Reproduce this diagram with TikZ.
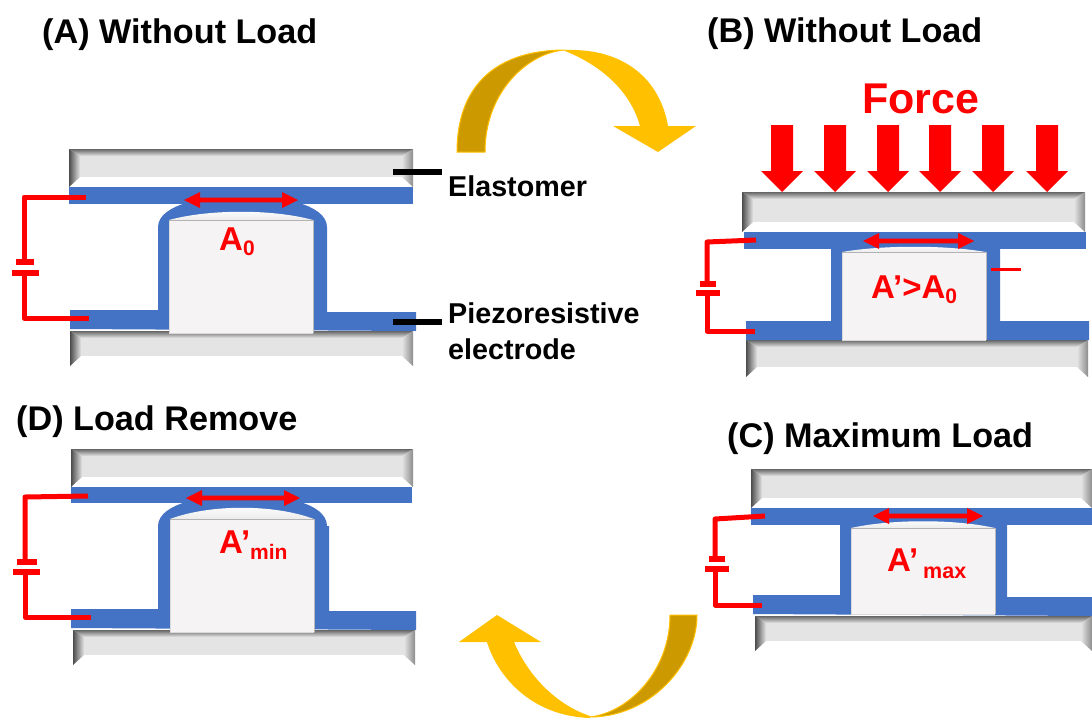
\documentclass[tikz,border=0pt]{standalone}
\usepackage{fontspec}
\setmainfont{Liberation Sans}
\definecolor{elec}{HTML}{4472C4}
\definecolor{gold}{HTML}{FFC000}
\definecolor{golddark}{HTML}{CC9A00}
\definecolor{plate}{HTML}{E4E4E4}
\definecolor{blockc}{HTML}{F5F3F4}
\newcommand{\fs}[1]{\fontsize{#1}{#1}\selectfont\bfseries}
\tikzset{
  electrode/.style={fill=elec,draw=none},
  wire/.style={draw=red,line width=5pt,line join=round},
  wireplate/.style={draw=red,line width=6pt},
  lab/.style={anchor=base west,inner sep=0pt,text=black},
  redlab/.style={anchor=base west,inner sep=0pt,text=red},
  redfill/.style={fill=red,draw=none},
  callout/.style={draw=black,line width=6pt},
  bigarrow/.style={fill=gold,draw=none},
  bigarrowback/.style={fill=golddark,draw=gold,line width=1pt}
}
% bevelled plate
\newcommand{\bevel}[4]{%
  \fill[plate] (#1,#2) rectangle (#3,#4);
  \shade[top color=black!60,middle color=plate!88!black,bottom color=plate,draw=none] (#1,#2) -- (#3,#2) -- (#3-11,#2+7) -- (#1+11,#2+7) -- cycle;
  \fill[white] (#1,#4) -- (#3,#4) -- (#3-11,#4-10) -- (#1+11,#4-10) -- cycle;
  \shade[left color=black!70,middle color=gray!70,right color=plate,draw=none] (#1,#2) -- (#1+11,#2+7) -- (#1+11,#4-10) -- (#1,#4) -- cycle;
  \shade[left color=plate,middle color=plate!85!black,right color=gray!90,draw=none] (#3,#2) -- (#3-11,#2+7) -- (#3-11,#4-10) -- (#3,#4) -- cycle;
}
% central block with its top cap
\newcommand{\block}[5]{%
  \fill[blockc] (#1,#2) rectangle (#3,#4);
  \draw[gray!55,line width=.8pt] (#3,#2) -- (#3,#4);
  \draw[gray!30,line width=.8pt] (#1,#2) -- (#1,#4) -- (#3,#4);
  \shade[top color=white,bottom color=gray!15,draw=none] (#1,#2) .. controls (#1+40,#5) and (#3-40,#5) .. (#3,#2) -- cycle;
  \draw[gray!60,line width=.6pt] (#1,#2) -- (#3,#2);
}
% double headed red arrow
\newcommand{\dbl}[3]{%
  \fill[redfill] (#1,#3) -- (#1+16,#3-8) -- (#1+16,#3-2.3) -- (#2-16,#3-2.3) -- (#2-16,#3-8) -- (#2,#3)
    -- (#2-16,#3+8) -- (#2-16,#3+2.3) -- (#1+16,#3+2.3) -- (#1+16,#3+8) -- cycle;
}
% force arrow
\newcommand{\force}[1]{%
  \fill[redfill] (#1-11,125) -- (#1+11,125) -- (#1+11,171) -- (#1+21,171) -- (#1,192) -- (#1-21,171) -- (#1-11,171) -- cycle;
}
\begin{document}
\begin{tikzpicture}[x=1pt,y=-1pt]
\useasboundingbox (0,0) rectangle (1092,718);

% ---------- Panel A
\bevel{69}{149}{413}{187}
\bevel{70}{331}{413}{366}
\fill[electrode] (69,187) rectangle (413,204);
\fill[electrode] (70,310) -- (158,310) -- (158,227) .. controls (158,215) and (172,207) .. (186,203) -- (299,203) .. controls (313,207) and (327,215) .. (327,227) -- (327,312) -- (416,312) -- (416,331) -- (70,329) -- cycle;
\block{169}{220}{313}{333}{209}
\dbl{184}{298}{200}
\coordinate (a1) at (86,197); \coordinate (a2) at (89,318);
\draw[wire] (a1) -- (24,197) -- (24,262);
\draw[wire] (24,273) -- (24,318) -- (a2);
\draw[wireplate] (16,262) -- (34,262);
\draw[wireplate] (12,273) -- (39,273);
\node[lab] (ta) at (42,43) {\fs{34.2}(A) Without Load};
\node[redlab] (la) at (219,250) {\fs{33}A\raisebox{-5pt}{\fs{21}0}};

% callouts
\draw[callout] (393,172) -- (442,172);
\draw[callout] (393,322) -- (442,322);
\node[lab] (el) at (448,196) {\fs{28.7}Elastomer};
\node[lab] (pz1) at (448,323) {\fs{28.7}Piezoresistive};
\node[lab] (pz2) at (448,359) {\fs{28.7}electrode};

% ---------- Panel B
\bevel{742}{192}{1085}{232}
\bevel{746}{340}{1088}{377}
\fill[electrode] (744,232) rectangle (1086,249);
\fill[electrode] (746,321) -- (831,321) -- (831,249) -- (1000,249) -- (1000,321) -- (1089,321) -- (1089,340) -- (746,340) -- cycle;
\block{842}{252}{986}{340}{245}
\dbl{863}{974}{241}
\coordinate (b1) at (756,240); \coordinate (b2) at (755,331);
\draw[wire] (b1) -- (707,242) -- (707,284);
\draw[wire] (707,293) -- (707,331) -- (b2);
\draw[wireplate] (700,284) -- (716,284);
\draw[wireplate] (696,293) -- (720,293);
\draw[red,line width=3pt] (991,269) -- (1021,269);
\force{782}\force{835}\force{888}\force{940}\force{993}\force{1047}
\node[lab] (tb) at (707,42) {\fs{34.2}(B) Without Load};
\node[redlab] (force) at (862,113) {\fs{43}Force};
\node[redlab] (lb) at (871,298) {\fs{33}A’>A\raisebox{-5pt}{\fs{21}0}};

% ---------- Panel D
\bevel{71}{449}{413}{487}
\bevel{73}{630}{415}{665}
\fill[electrode] (71,487) rectangle (412,503);
\fill[electrode] (71,609) -- (158,609) -- (158,526) .. controls (158,514) and (172,506) .. (186,502) -- (300,502) .. controls (314,506) and (327,514) .. (327,526) -- (329,526) -- (329,611) -- (416,611) -- (416,630) -- (71,628) -- cycle;
\block{170}{519}{314}{632}{504}
\dbl{186}{300}{498}
\coordinate (d1) at (88,496); \coordinate (d2) at (91,617);
\draw[wire] (d1) -- (25,497) -- (25,562);
\draw[wire] (25,572) -- (25,617) -- (d2);
\draw[wireplate] (17,562) -- (37,562);
\draw[wireplate] (13,572) -- (40,572);
\node[lab] (td) at (16,430) {\fs{34.2}(D) Load Remove};
\node[redlab] (ld) at (219,553) {\fs{33}A’};
\node[redlab] (lds) at (250,559) {\fs{21}min};

% ---------- Panel C
\bevel{751}{469}{1092}{508}
\bevel{755}{616}{1092}{651}
\fill[electrode] (751,508) rectangle (1092,525);
\fill[electrode] (753,595) -- (840,595) -- (840,525) -- (1007,525) -- (1007,597) -- (1092,597) -- (1092,616) -- (753,614) -- cycle;
\block{851}{528}{995}{614}{519}
\dbl{873}{983}{516}
\coordinate (c1) at (765,516); \coordinate (c2) at (762,605);
\draw[wire] (c1) -- (715,519) -- (715,559);
\draw[wire] (715,569) -- (715,605) -- (c2);
\draw[wireplate] (709,559) -- (725,559);
\draw[wireplate] (705,569) -- (729,569);
\node[lab] (tc) at (727,447) {\fs{34.2}(C) Maximum Load};
\node[redlab] (lc) at (887,571) {\fs{33}A’};
\node[redlab] (lcs) at (923,578) {\fs{21.5}max};

% ---------- Curved arrows
\path[bigarrowback] (457,152) .. controls (457,82) and (500,50) .. (565,50) .. controls (530,52) and (485,90) .. (485,152) -- cycle;
\fill[bigarrow] (565,50) .. controls (625,48) and (660,80) .. (668,126) -- (696,126) -- (658,152) -- (613,126) -- (640,126) .. controls (630,90) and (600,65) .. (565,51) -- cycle;

\path[bigarrowback] (697,615) .. controls (697,665) and (650,717) .. (590,717) .. controls (630,712) and (670,670) .. (670,615) -- cycle;
\fill[bigarrow] (590,716) .. controls (560,706) and (530,680) .. (514,642) -- (541,642) -- (497,615) -- (459,642) -- (487,642) .. controls (497,675) and (530,716) .. (590,718) -- cycle;
\end{tikzpicture}
\end{document}
